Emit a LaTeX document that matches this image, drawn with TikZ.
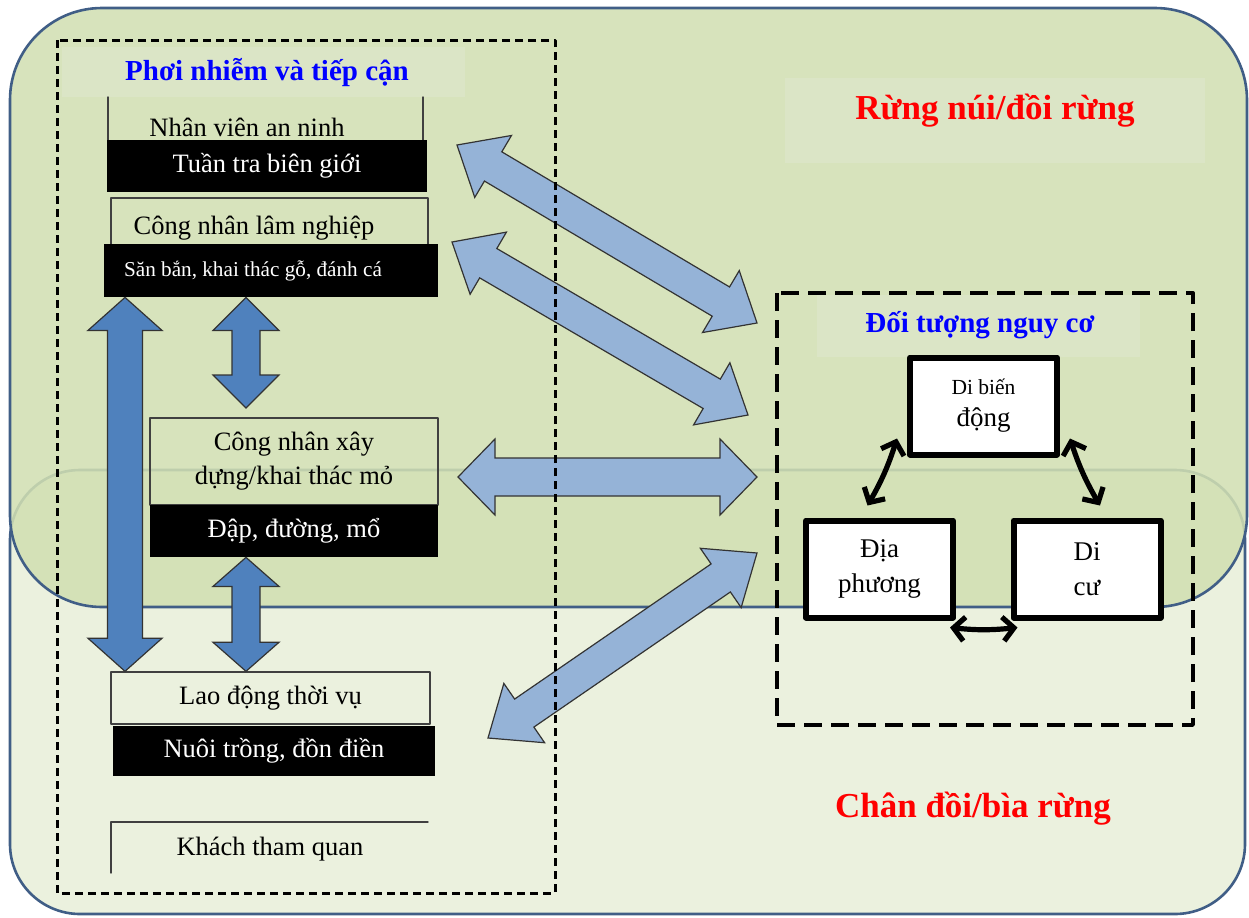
\documentclass[tikz,border=0pt]{standalone}
\usepackage{fontspec}
\setmainfont{Liberation Serif}
\usepackage{tikz}
\usetikzlibrary{calc}
\usetikzlibrary{arrows.meta}
\definecolor{dyeubc}{rgb}{0.82,0.875,0.70}
\definecolor{ebfrde}{rgb}{0.922,0.945,0.871}
\definecolor{dfeycb}{rgb}{0.86,0.90,0.775}
\definecolor{uqvexw}{rgb}{0.251,0.369,0.525}
\definecolor{ufyrbd}{rgb}{0.31,0.506,0.741}
\definecolor{zvbtdx}{rgb}{0.584,0.702,0.843}
\definecolor{qqqqff}{rgb}{0.,0.,1.}
\definecolor{ffqqqq}{rgb}{1.,0.,0.}
\tikzset{
  zone/.style={draw=uqvexw,line width=1.3pt},
  hdr/.style={fill=dfeycb},
  txt/.style={font=\fontsize{13.25}{17}\selectfont,inner sep=0pt},
  bar/.style={fill=black,text=white,font=\fontsize{13.25}{17}\selectfont,inner sep=0pt},
  rim/.style={draw=black!75,line width=0.7pt},
  ttl/.style={font=\bfseries\fontsize{14.5}{17}\selectfont,text=qqqqff},
  big/.style={font=\bfseries\fontsize{17.5}{21}\selectfont,text=ffqqqq},
  riskbox/.style={draw,fill=white,line width=3pt,minimum width=73.5pt,minimum height=48.5pt,
    align=center,inner sep=0pt,font=\fontsize{13.5}{17.5}\selectfont},
  grpA/.style={line width=1.5pt,line cap=butt,dash pattern=on 4pt off 2.5pt},
  grpB/.style={line width=1.7pt,line cap=butt,dash pattern=on 9pt off 4.5pt},
  darkarr/.style={fill=ufyrbd,draw=black!80,line width=0.6pt,line join=miter},
  lightarr/.style={fill=zvbtdx,draw=black!80,line width=0.6pt,line join=miter},
  twoway/.style={{Straight Barb[length=5.5pt,width=12pt]}-{Straight Barb[length=5.5pt,width=12pt]},line width=2.6pt}
}
% #2 -> #3 : head length, head half width, shaft half width
\newcommand{\fatarrow}[6][]{%
  \coordinate (faS) at ($(#2)!#4!(#3)$);
  \coordinate (faE) at ($(#3)!#4!(#2)$);
  \draw[#1] (#2) -- ($(faS)!#5!90:(#3)$) -- ($(faS)!#6!90:(#3)$) -- ($(faE)!#6!-90:(#2)$)
    -- ($(faE)!#5!-90:(#2)$) -- (#3) -- ($(faE)!#5!90:(#2)$) -- ($(faE)!#6!90:(#2)$)
    -- ($(faS)!#6!-90:(#3)$) -- ($(faS)!#5!-90:(#3)$) -- cycle;}
\begin{document}
\begin{tikzpicture}[line cap=round,line join=round,x=0.5pt,y=-0.5pt]
\useasboundingbox (0,0) rectangle (1249,917);
% nen
\draw[zone,fill=ebfrde,rounded corners=35pt] (10,470) rectangle (1245,914);
\draw[zone,fill=dyeubc,fill opacity=0.87,rounded corners=46pt] (10,8) rectangle (1247,607);
\fill[hdr] (62,47) rectangle (465,97);
\fill[hdr] (785,78) rectangle (1205,163);
\fill[hdr] (817,295) rectangle (1140,357);
\node[ttl] (phoi) at (267,73) {Phơi nhiễm và tiếp cận};
\node[big] (rung) at (995,111) {Rừng núi/đồi rừng};
\node[big] (chan) at (973,809) {Chân đồi/bìa rừng};
\node[ttl] (doituong) at (980,325) {Đối tượng nguy cơ};
% cot trai
\draw[rim] (108,97) -- (108,140) (423,97) -- (423,140);
\node[txt] (nhanvien) at (247,127) {Nhân viên an ninh};
\node[bar,minimum width=160pt,minimum height=26pt] (tuantra) at (267,166) {Tuần tra biên giới};
\draw[rim] (111,244) -- (111,198) -- (428,198) -- (428,244);
\node[txt] (lamnghiep) at (254,228) {Công nhân lâm nghiệp};
\node[bar,minimum width=167pt,minimum height=26.5pt,font=\fontsize{10.6}{13}\selectfont] (sanban) at (271,270.5) {Săn bắn, khai thác gỗ, đánh cá\hspace*{18pt}};
\node[txt,rim,minimum width=144pt,minimum height=43.5pt,align=center] (xaydung) at (294,461.5) {Công nhân xây\\dựng/khai thác mỏ};
\node[bar,minimum width=144pt,minimum height=26pt] (dap) at (294,531) {Đập, đường, mổ};
\node[txt,rim,minimum width=159.5pt,minimum height=26pt] (lao) at (270.5,698) {Lao động thời vụ};
\node[bar,minimum width=161pt,minimum height=25pt] (nuoi) at (274,751) {Nuôi trồng, đồn điền};
\draw[rim] (111,873) -- (111,822) -- (428,822);
\node[txt] (khach) at (270,849) {Khách tham quan};
% doi tuong nguy co
\node[riskbox,font=\fontsize{13.5}{16}\selectfont] (dbd) at (983.5,406) {{\fontsize{10.75}{13}\selectfont Di biến}\\động};
\node[riskbox] (dp) at (879.5,569) {Địa\\phương};
\node[riskbox] (dc) at (1087,569) {Di\\cư};
\draw[twoway] ([shift={(-10,-19)}]dbd.south west) to[bend left=6] ([shift={(-12,-12)}]dp.north);
\draw[twoway] ([shift={(10,-19)}]dbd.south east) to[bend right=6] ([shift={(13,-12)}]dc.north);
\draw[twoway] ([shift={(-6,7)}]dp.south east) to[bend right=6] ([shift={(7,7)}]dc.south west);
% mui ten dam
\coordinate (lgA) at (125,0 |- sanban.south);
\coordinate (lgB) at (125,0 |- lao.north);
\fatarrow[darkarr]{lgA}{lgB}{16.5pt}{18.5pt}{8.75pt}
\coordinate (stA) at (246,0 |- sanban.south);
\coordinate (stB) at (246,408);
\fatarrow[darkarr]{stA}{stB}{16.5pt}{16.5pt}{7pt}
\coordinate (sdA) at (246,0 |- dap.south);
\coordinate (sdB) at (246,0 |- lao.north);
\fatarrow[darkarr]{sdA}{sdB}{14.5pt}{16.5pt}{7pt}
% mui ten nhat
\coordinate (aA) at (457,145);
\coordinate (aB) at (757,323);
\fatarrow[lightarr]{aA}{aB}{21pt}{18pt}{8.5pt}
\coordinate (bA) at (452,242);
\coordinate (bB) at (748,415);
\fatarrow[lightarr]{bA}{bB}{21pt}{18pt}{8.5pt}
\coordinate (cA) at (458,477);
\coordinate (cB) at (757,477);
\fatarrow[lightarr]{cA}{cB}{18.5pt}{19pt}{9.5pt}
\coordinate (dA) at (757,553);
\coordinate (dB) at (488,738);
\fatarrow[lightarr]{dA}{dB}{22pt}{18pt}{8.5pt}
% khung
\draw[grpA] (57,40) rectangle (555,893);
\draw[grpB] (777,293) rectangle (1193,725);
\end{tikzpicture}
\end{document}
